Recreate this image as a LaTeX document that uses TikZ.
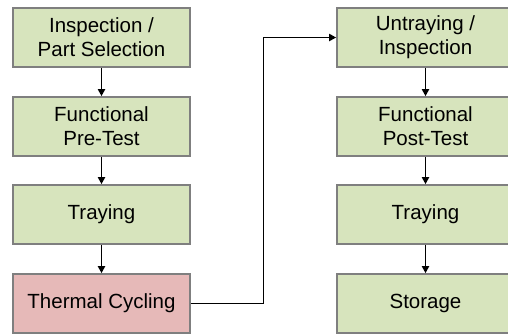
\documentclass[tikz,border=0pt]{standalone}
\usepackage{fontspec}
\setmainfont{Liberation Sans}
\usetikzlibrary{arrows.meta}
\definecolor{boxgreen}{HTML}{D7E4BD}
\definecolor{boxred}{HTML}{E6B9B8}
\definecolor{boxedge}{HTML}{7F7F7F}
\begin{document}
\begin{tikzpicture}[x=1pt,y=-1pt,
  stepbox/.style={draw=boxedge,line width=1.6pt,fill=boxgreen,minimum width=177pt,minimum height=59pt,
    inner sep=0pt,align=center,font=\fontsize{20.5}{24}\selectfont,text=black},
  hotbox/.style={stepbox,fill=boxred},
  flow/.style={line width=1.8pt,-{Triangle[length=7pt,width=7pt]}}]
\clip (0,0) rectangle (508,335);
\useasboundingbox (0,0) rectangle (508,335);
\node[stepbox] (a1) at (101.5,37.5) {Inspection /\\Part Selection};
\node[stepbox] (a2) at (101.5,126.5) {Functional\\Pre-Test};
\node[stepbox] (a3) at (101.5,214.5) {Traying};
\node[hotbox]  (a4) at (101.5,303.5) {Thermal Cycling};
\node[stepbox] (b1) at (425.5,37.5) {Untraying /\\Inspection};
\node[stepbox] (b2) at (425.5,126.5) {Functional\\Post-Test};
\node[stepbox] (b3) at (425.5,214.5) {Traying};
\node[stepbox] (b4) at (425.5,303.5) {Storage};
\draw[flow] (a1) -- (a2);
\draw[flow] (a2) -- (a3);
\draw[flow] (a3) -- (a4);
\draw[flow] (b1) -- (b2);
\draw[flow] (b2) -- (b3);
\draw[flow] (b3) -- (b4);
\coordinate (turn) at (263.5,0);
\draw[flow] (a4.east) -| (turn |- b1.west) -- (b1.west);
\end{tikzpicture}
\end{document}
